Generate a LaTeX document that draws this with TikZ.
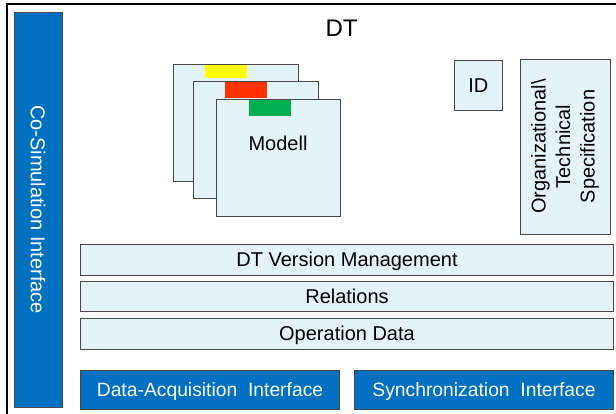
\documentclass[tikz,border=0pt]{standalone}
\usepackage{fontspec}
\setmainfont{Liberation Sans}

\definecolor{dtlight}{RGB}{228,242,250}
\definecolor{dtblue}{RGB}{0,112,192}
\definecolor{dtborder}{RGB}{72,72,72}
\definecolor{tagyellow}{RGB}{255,255,0}
\definecolor{tagred}{RGB}{255,51,0}
\definecolor{taggreen}{RGB}{0,176,80}

\tikzset{
	lightbox/.style={draw=dtborder,fill=dtlight,line width=1pt,inner sep=0pt,font=\fontsize{20}{24.5}\selectfont},
	bluebox/.style={draw=dtborder,fill=dtblue,text=white,line width=1pt,inner sep=0pt,font=\fontsize{19.3}{24}\selectfont},
	captext/.style={text height=14pt,text depth=0pt},
	tag/.style={inner sep=0pt,minimum width=42pt,anchor=north west}
}

\begin{document}
\begin{tikzpicture}[x=1pt,y=-1pt]
			\useasboundingbox (0,0) rectangle (616,413);

			% outer frame
			\draw[line width=1.3pt] (7,420) -- (7,4) -- (620,4);
			\node[font=\fontsize{24}{28}\selectfont] (title) at (341.5,28.5) {DT};

			% Co-Simulation
			\node[bluebox,rotate=-90,minimum width=395pt,minimum height=48pt,font=\fontsize{20}{24}\selectfont] (cosim) at (38,209.5) {Co-Simulation Interface};

			% model stack
			\node[lightbox,minimum width=125pt,minimum height=117pt,anchor=north west] (cardA) at (173,64) {};
			\node[tag,fill=tagyellow,minimum height=13pt] (tagA) at (205,64.5) {};
			\node[lightbox,minimum width=125pt,minimum height=117pt,anchor=north west] (cardB) at (192.5,81) {};
			\node[tag,fill=tagred,minimum height=16pt] (tagB) at (224.5,81.5) {};
			\node[lightbox,minimum width=124pt,minimum height=116.5pt,anchor=north west] (cardC) at (216,99) {};
			\node[tag,fill=taggreen,minimum height=16pt] (tagC) at (249,99.5) {};
			\node[font=\fontsize{20}{24}\selectfont] (modell) at (278,143) {Modell};

			% ID and specification
			\node[lightbox,captext,minimum width=48.5pt,minimum height=50pt,anchor=north west] (id) at (453.5,60) {ID};
			\node[lightbox,rotate=90,align=center,minimum width=175pt,minimum height=90pt] (orgspec) at (565,146.5) {Organizational\textbackslash\\Technical\\Specification};

			% data layers
			\node[lightbox,captext,minimum width=533pt,minimum height=31pt,anchor=north west] (version) at (80,243.5) {DT Version Management};
			\node[lightbox,captext,minimum width=533pt,minimum height=30pt,anchor=north west] (relations) at (80,281) {Relations};
			\node[lightbox,captext,minimum width=533pt,minimum height=31pt,anchor=north west] (opdata) at (80,317.5) {Operation Data};

			% interfaces
			\node[bluebox,captext,minimum width=259pt,minimum height=39.5pt,anchor=north west] (acquisition) at (80,369.5) {Data-Acquisition\ \ Interface};
			\node[bluebox,captext,minimum width=259pt,minimum height=39.5pt,anchor=north west] (sync) at (354,369.5) {Synchronization\ \ Interface};
		\end{tikzpicture}
\end{document}
